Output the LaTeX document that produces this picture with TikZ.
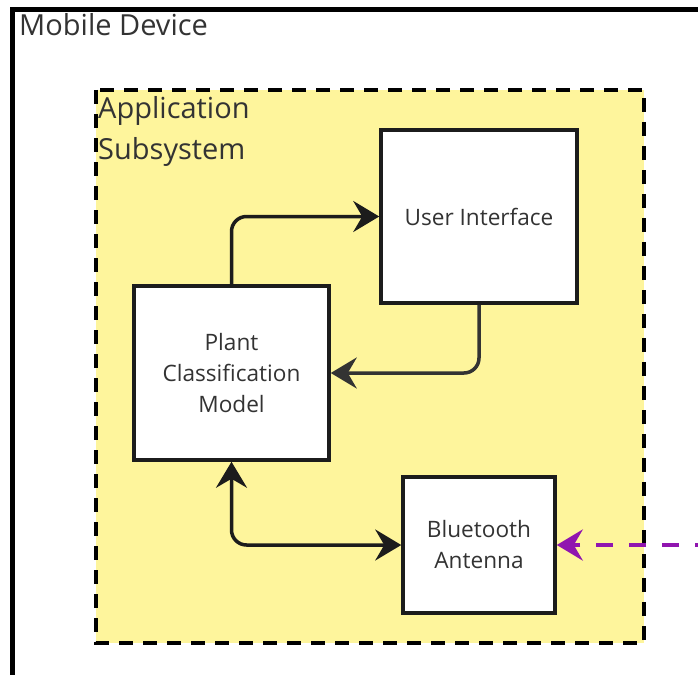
\documentclass[tikz,border=0pt]{standalone}
\usepackage{fontspec}
\setmainfont{Open Sans}
\usetikzlibrary{arrows.meta}

\definecolor{subfill}{HTML}{FEF59C}
\definecolor{inktext}{HTML}{333333}
\definecolor{linkdark}{HTML}{1C1C1C}
\definecolor{linkgray}{HTML}{333333}
\definecolor{radiolink}{HTML}{9015AF}

\tikzset{
  blockbox/.style={draw=linkdark, line width=3.5pt, fill=white, text=inktext,
    align=center, inner sep=0pt, font=\fontsize{22.6}{31}\selectfont},
  headtext/.style={text=inktext, inner sep=0pt, align=left,
    font=\fontsize{29}{43}\selectfont},
  bigtip/.tip={Stealth[length=26pt,width=31pt,inset=9pt]},
  flow/.style={line width=3.5pt, rounded corners=15pt},
}

\begin{document}
\begin{tikzpicture}[x=1pt,y=-1pt]
  \useasboundingbox (0,0) rectangle (698,674);

  % device frame, running past the right and lower edges
  \begin{scope}
    \clip (0,0) rectangle (698,674);
    \draw[line width=5pt] (12,690) -- (12,10) -- (720,10);
  \end{scope}
  \node[headtext, anchor=base west] (devtitle) at (19,35.5) {Mobile Device};

  % application subsystem area
  \draw[fill=subfill, draw=black, line width=3.5pt, dash pattern=on 14pt off 10pt]
    (96,90) rectangle (644,643);
  \node[headtext, anchor=base west] (subtitle) at (98,118.5) {Application};
  \node[headtext, anchor=base west] (subtitle2) at (98,159.5) {Subsystem};

  % functional blocks
  \node[blockbox, minimum width=196pt, minimum height=173pt] (ui) at (479,216.5) {User Interface};
  \node[blockbox, minimum width=195pt, minimum height=174pt] (pcm) at (231.5,373) {Plant\\Classification\\Model};
  \node[blockbox, minimum width=152pt, minimum height=136pt] (bt) at (479,545) {Bluetooth\\Antenna};

  % links between blocks
  \draw[flow, -bigtip, draw=linkdark] (pcm.north) |- (ui.west);
  \draw[flow, -bigtip, draw=linkgray] (ui.south) |- (pcm.east);
  \draw[flow, bigtip-bigtip, draw=linkdark] (pcm.south) |- (bt.west);

  % incoming wireless link
  \coordinate (remote) at (712,545);
  \draw[line width=4pt, radiolink, dash pattern=on 17pt off 16pt, -bigtip] (remote) -- (bt.east);
\end{tikzpicture}
\end{document}
